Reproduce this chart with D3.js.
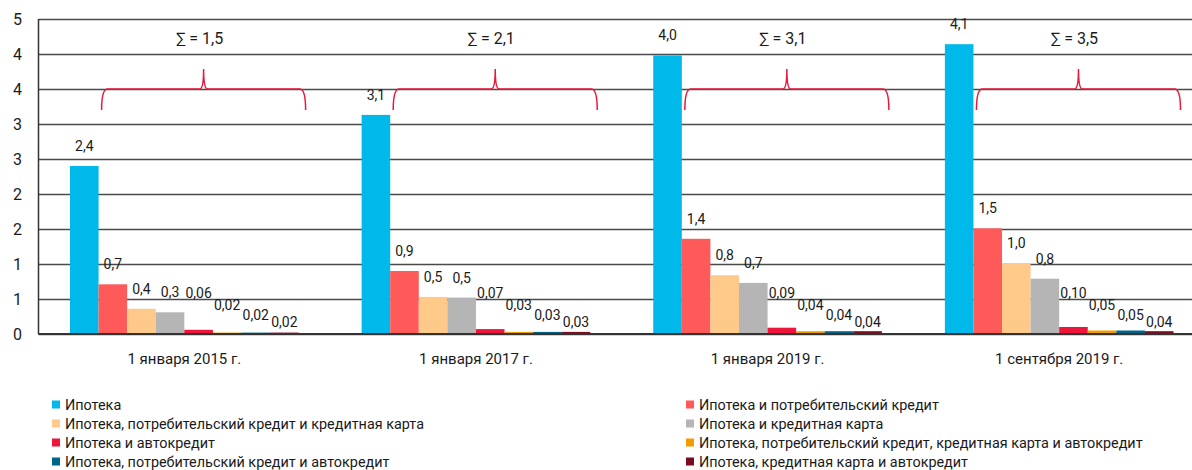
<!DOCTYPE html>
<html lang="ru">
<head>
<meta charset="UTF-8">
<title>Ипотека</title>
<script src="https://d3js.org/d3.v7.min.js"></script>
<style>
    body { margin: 0; background: #fff; }
    text { font-family: Roboto, "Liberation Sans", sans-serif; fill: #1a1a1a; }
</style>
</head>
<body>
<div id="figure" style="width:1192px;height:470px"></div>
<script>
    // dates on the x axis
    const categories = ["1 января 2015 г.", "1 января 2017 г.", "1 января 2019 г.", "1 сентября 2019 г."];

    const seriesNames = [
        "Ипотека",
        "Ипотека и потребительский кредит",
        "Ипотека, потребительский кредит и кредитная карта",
        "Ипотека и кредитная карта",
        "Ипотека и автокредит",
        "Ипотека, потребительский кредит, кредитная карта и автокредит",
        "Ипотека, потребительский кредит и автокредит",
        "Ипотека, кредитная карта и автокредит"
    ];
    const seriesColors = ["#00b9eb", "#ff5a5a", "#ffca89", "#b5b5b6", "#ee143a", "#f39c00", "#00648b", "#7b0b1e"];

    // values per series, one per date (mln)
    const mortgage          = [2.40, 3.13, 3.98, 4.14];
    const mortConsumer      = [0.71, 0.90, 1.36, 1.51];
    const mortConsCard      = [0.36, 0.53, 0.84, 1.01];
    const mortCard          = [0.31, 0.52, 0.73, 0.79];
    const mortAuto          = [0.06, 0.07, 0.09, 0.10];
    const mortConsCardAuto  = [0.02, 0.03, 0.04, 0.05];
    const mortConsAuto      = [0.02, 0.03, 0.04, 0.05];
    const mortCardAuto      = [0.02, 0.03, 0.04, 0.04];
    const seriesValues = [mortgage, mortConsumer, mortConsCard, mortCard, mortAuto, mortConsCardAuto, mortConsAuto, mortCardAuto];
    const decimals = [1, 1, 1, 1, 2, 2, 2, 2];

    // sums shown over the braces
    const sumLabels = ["1,5", "2,1", "3,1", "3,5"];

    const yTicks = [0, 0.5, 1, 1.5, 2, 2.5, 3, 3.5, 4, 4.5];

    // the small labels were lifted by hand in the original, px above baseline
    const smallLabelLift = [41, 29, 18.5, 12];

    let w = 1192, h = 470;
    let svg = d3.select("#figure").append("svg")
        .attr("width", w)
        .attr("height", h);

    let plotLeft = 38.5, plotTop = 19, plotBottom = 334;
    let plotRight = 1205;

    let y = d3.scaleLinear().domain([0, 4.5]).range([plotBottom, plotTop]);
    let x0 = d3.scaleBand().domain(categories).range([plotLeft, plotRight])
        .paddingInner(0.216).paddingOuter(0.108);
    let x1 = d3.scaleBand().domain(d3.range(seriesNames.length)).range([0, x0.bandwidth()]);

    // grid
    let grid = svg.append("g")
        .attr("transform", `translate(${plotLeft},0)`)
        .call(d3.axisLeft(y).tickValues(yTicks).tickSize(-(w - plotLeft)).tickFormat(d => Math.round(d)));
    grid.select(".domain").remove();
    grid.selectAll(".tick line").attr("stroke", "#4a4a4a").attr("stroke-width", 1.3);
    grid.selectAll(".tick text")
        .attr("x", -21).attr("text-anchor", "middle")
        .style("font-size", "16px").attr("fill", "#1a1a1a");

    // bars
    let groups = svg.append("g").selectAll("g")
        .data(categories)
        .join("g")
        .attr("transform", d => `translate(${x0(d)},0)`);

    groups.selectAll("rect")
        .data((d, ci) => seriesValues.map((s, si) => ({si: si, v: s[ci]})))
        .join("rect")
        .attr("x", d => x1(d.si))
        .attr("y", d => y(d.v))
        .attr("width", x1.bandwidth())
        .attr("height", d => plotBottom - y(d.v))
        .attr("fill", d => seriesColors[d.si]);

    groups.selectAll("text.val")
        .data((d, ci) => seriesValues.map((s, si) => ({si: si, v: s[ci]})))
        .join("text")
        .attr("class", "val")
        .attr("x", d => x1(d.si) + x1.bandwidth() / 2)
        .attr("y", d => d.si < 4 ? y(d.v) - 20 : plotBottom - smallLabelLift[d.si - 4])
        .attr("dy", "0.35em")
        .attr("text-anchor", "middle")
        .style("font-size", "14px")
        .text(d => d3.format("." + decimals[d.si] + "f")(d.v).replace(".", ","));

    // axes lines
    svg.append("line")
        .attr("x1", plotLeft).attr("x2", plotLeft).attr("y1", plotTop).attr("y2", plotBottom)
        .attr("stroke", "#333").attr("stroke-width", 1.5);
    svg.append("line")
        .attr("x1", plotLeft).attr("x2", w).attr("y1", plotBottom).attr("y2", plotBottom)
        .attr("stroke", "#333").attr("stroke-width", 2);

    // category labels
    svg.append("g").selectAll("text")
        .data(categories)
        .join("text")
        .attr("x", d => x0(d) + x0.bandwidth() / 2)
        .attr("y", 359)
        .attr("dy", "0.35em")
        .attr("text-anchor", "middle")
        .style("font-size", "15px")
        .text(d => d);

    // braces over the combined products
    let yLine = 89, yEnd = 110, yTip = 69;
    function brace(a, b) {
        let m = (a + b) / 2;
        return `M${a},${yEnd} Q${a},${yLine} ${a + 6},${yLine} L${m - 4},${yLine} Q${m},${yLine} ${m},${yTip}` +
            ` Q${m},${yLine} ${m + 4},${yLine} L${b - 6},${yLine} Q${b},${yLine} ${b},${yEnd}`;
    }
    categories.forEach((c, i) => {
        let a = x0(c) + x1(1) + 3;
        let b = x0(c) + x1(7) + x1.bandwidth() + 7;
        svg.append("path")
            .attr("d", brace(a, b))
            .attr("fill", "none")
            .attr("stroke", "#e8173c")
            .attr("stroke-width", 1.5);
        svg.append("text")
            .attr("x", (a + b) / 2 - 4)
            .attr("y", 38)
            .attr("dy", "0.35em")
            .attr("text-anchor", "middle")
            .style("font-size", "16px")
            .text("∑ = " + sumLabels[i]);
    });

    // legend, two columns
    let legendX = [52, 686];
    let legend = svg.append("g").selectAll("g")
        .data(seriesNames)
        .join("g")
        .attr("transform", (d, i) => `translate(${legendX[i % 2]},${405 + Math.floor(i / 2) * 19})`);
    legend.append("rect")
        .attr("x", 0).attr("y", -4.5).attr("width", 8).attr("height", 8)
        .attr("fill", (d, i) => seriesColors[i]);
    legend.append("text")
        .attr("x", 13)
        .attr("dy", "0.35em")
        .style("font-size", "14.4px")
        .text(d => d);
</script>
</body>
</html>
